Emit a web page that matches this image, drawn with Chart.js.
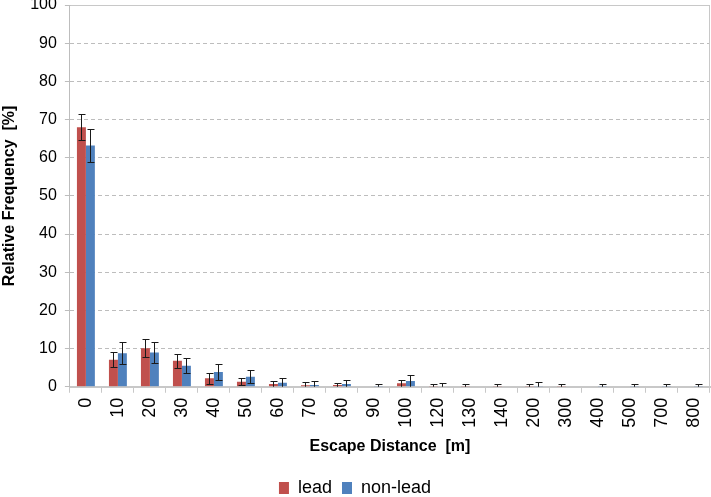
<!DOCTYPE html>
<html>
<head>
<meta charset="utf-8">
<script src="https://cdn.jsdelivr.net/npm/chart.js@4.4.1/dist/chart.umd.min.js"></script>
<style>
    html, body { margin: 0; padding: 0; background: #fff; overflow: hidden; }
    #wrap { width: 711px; height: 507px; position: relative; }
</style>
</head>
<body>
<div id="wrap"><canvas id="escapeChart"></canvas></div>
<script>
const distances = ['0', '10', '20', '30', '40', '50', '60', '70', '80', '90', '100', '120', '130', '140', '200', '300', '400', '500', '700', '800'];
const leadValues = [68.0, 7.1, 10.1, 6.8, 2.2, 1.3, 0.7, 0.4, 0.45, 0, 0.9, 0.1, 0.1, 0.1, 0.1, 0.1, 0, 0, 0, 0];
const leadErrors = [3.4, 2.0, 2.4, 1.9, 1.4, 0.9, 0.8, 0.9, 0.6, 0, 0.85, 0.6, 0.6, 0.6, 0.6, 0.6, 0, 0, 0, 0];
const nonLeadValues = [63.2, 8.8, 9.0, 5.5, 3.9, 2.6, 1.05, 0.45, 0.7, 0.1, 1.5, 0.15, 0, 0, 0.2, 0, 0.1, 0.1, 0.1, 0.1];
const nonLeadErrors = [4.3, 2.8, 2.7, 2.0, 2.0, 1.7, 1.3, 1.05, 1.1, 0.6, 1.5, 0.75, 0, 0, 1.0, 0, 0.6, 0.6, 0.6, 0.6];
const yTicks = [0, 10, 20, 30, 40, 50, 60, 70, 80, 90, 100];

const FONT = '"Liberation Sans", Arial, sans-serif';

// draws the +/- error whiskers on top of each bar
const errorBars = {
    id: 'errorBars',
    afterDatasetsDraw(chart) {
        const ctx = chart.ctx;
        const yScale = chart.scales.y;
        const area = chart.chartArea;
        ctx.save();
        ctx.beginPath();
        ctx.rect(area.left, area.top, area.right - area.left, area.bottom - area.top);
        ctx.clip();
        ctx.strokeStyle = '#1a1a1a';
        ctx.lineWidth = 1;
        chart.data.datasets.forEach((ds, i) => {
            const meta = chart.getDatasetMeta(i);
            meta.data.forEach((bar, j) => {
                const err = ds.errors[j];
                if (!err) return;
                const v = ds.data[j];
                const x = Math.round(bar.x) + 0.5;
                const top = Math.round(yScale.getPixelForValue(v + err)) + 0.5;
                const low = v - err;
                const bot = Math.round(yScale.getPixelForValue(Math.max(0, low))) + 0.5;
                ctx.beginPath();
                ctx.moveTo(x, top);
                ctx.lineTo(x, bot);
                ctx.moveTo(x - 3, top);
                ctx.lineTo(x + 4, top);
                if (low > 0) {
                    ctx.moveTo(x - 3, bot);
                    ctx.lineTo(x + 4, bot);
                }
                ctx.stroke();
            });
        });
        ctx.restore();
    }
};

// solid frame on the top and right of the plot area
const plotFrame = {
    id: 'plotFrame',
    afterDraw(chart) {
        const ctx = chart.ctx;
        const a = chart.chartArea;
        ctx.save();
        ctx.strokeStyle = '#c8c8c8';
        ctx.lineWidth = 1;
        ctx.beginPath();
        ctx.moveTo(Math.round(a.left) + 0.5, Math.round(a.top) + 0.5);
        ctx.lineTo(Math.round(a.right) - 0.5, Math.round(a.top) + 0.5);
        ctx.lineTo(Math.round(a.right) - 0.5, Math.round(a.bottom) + 0.5);
        ctx.stroke();
        ctx.restore();
    }
};

Chart.defaults.font.family = FONT;
Chart.defaults.color = '#000';

const ctx = document.getElementById('escapeChart').getContext('2d');
new Chart(ctx, {
    type: 'bar',
    data: {
        labels: distances,
        datasets: [{
            label: 'lead',
            data: leadValues,
            errors: leadErrors,
            backgroundColor: '#c0504d',
            categoryPercentage: 0.56,
            barPercentage: 1.0
        }, {
            label: 'non-lead',
            data: nonLeadValues,
            errors: nonLeadErrors,
            backgroundColor: '#4f81bd',
            categoryPercentage: 0.56,
            barPercentage: 1.0
        }]
    },
    options: {
        responsive: true,
        maintainAspectRatio: false,
        animation: false,
        layout: { padding: { top: 5, right: 1, left: 0, bottom: 0 } },
        plugins: {
            legend: {
                position: 'bottom',
                labels: {
                    boxWidth: 10,
                    boxHeight: 12,
                    padding: 10,
                    font: { size: 18, family: FONT },
                    color: '#000'
                }
            },
            tooltip: { enabled: false }
        },
        scales: {
            x: {
                afterFit(axis) {
                    axis.paddingRight = 0;
                },
                grid: {
                    offset: true,
                    drawOnChartArea: false,
                    drawTicks: true,
                    tickLength: 6,
                    color: '#c8c8c8'
                },
                border: { color: '#c8c8c8', width: 2 },
                ticks: {
                    minRotation: 90,
                    maxRotation: 90,
                    padding: 5,
                    font: { size: 18 },
                    color: '#000'
                },
                title: {
                    display: true,
                    text: 'Escape Distance  [m]',
                    font: { size: 16, weight: 'bold' },
                    padding: { top: 4, bottom: 13 }
                }
            },
            y: {
                min: 0,
                max: 100,
                afterBuildTicks(axis) {
                    axis.ticks = yTicks.map(v => ({ value: v }));
                },
                afterFit(axis) {
                    axis.paddingTop = 0;
                },
                grid: {
                    color: '#bdbdbd',
                    tickLength: 5
                },
                border: { color: '#bdbdbd', dash: [4, 3] },
                ticks: {
                    padding: 8,
                    font: { size: 16 },
                    color: '#000'
                },
                title: {
                    display: true,
                    text: 'Relative Frequency  [%]',
                    font: { size: 16, weight: 'bold' },
                    padding: { top: 0, bottom: 3 }
                }
            }
        }
    },
    plugins: [errorBars, plotFrame, {
        id: 'dashGrid',
        beforeDraw(chart) {
            chart.options.scales.y.grid.borderDash = [4, 3];
        }
    }]
});
</script>
</body>
</html>
